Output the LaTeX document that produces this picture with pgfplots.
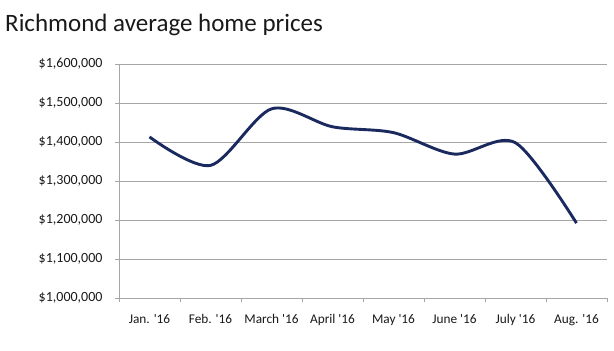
\documentclass[border=0pt]{standalone}
\usepackage{pgfplots}
\pgfplotsset{compat=1.18}
\usepackage{fontspec}
\setmainfont{Carlito}
\newfontfamily\labfont{Carlito}
\definecolor{navy}{HTML}{1B2A5E}
\definecolor{gridgray}{HTML}{A6A6A6}
\newcommand{\q}{\textquotesingle}
\begin{document}
\begin{tikzpicture}[x=1pt,y=1pt]
\useasboundingbox (-119,-53) rectangle (495,298);
\node[anchor=base west,inner sep=0pt,font=\fontsize{25}{28}\selectfont,text=black!90] at (-114,266) {Richmond average home prices};
\begin{axis}[
  at={(0,0)}, anchor=south west,
  scale only axis, width=488pt, height=234pt,
  xmin=0.5, xmax=8.5, ymin=1000000, ymax=1600000,
  scaled y ticks=false,
  axis x line*=bottom, axis y line*=left,
  axis line style={gridgray, line width=0.9pt},
  xtick={1,...,8},
  xticklabels={Jan. \q16, Feb. \q16, March \q16, April \q16, May \q16, June \q16, July \q16, Aug. \q16},
  major x tick style={draw=none},
  minor xtick={0.5,1.5,...,8.5},
  minor x tick style={gridgray, line width=0.9pt},
  minor tick length=4pt,
  tick align=outside,
  ytick={1000000,1100000,...,1600000},
  yticklabels={{\$1,000,000},{\$1,100,000},{\$1,200,000},{\$1,300,000},{\$1,400,000},{\$1,500,000},{\$1,600,000}},
  major y tick style={gridgray, line width=0.9pt},
  major tick length=4pt,
  ymajorgrids,
  grid style={gridgray, line width=0.9pt},
  tick label style={font=\labfont\fontsize{13.3}{15}\selectfont, text=black!90},
  yticklabel style={font=\labfont\fontsize{14}{16}\selectfont, xshift=-9pt},
  xticklabel style={yshift=-9pt},
  clip=false,
]
\addplot[navy, line width=2.9pt, smooth, tension=0.5] coordinates {
  (1,1413000) (2,1340000) (3,1485000) (4,1439000) (5,1424000) (6,1369000) (7,1398000) (8,1192000)
};
\end{axis}
\end{tikzpicture}
\end{document}
